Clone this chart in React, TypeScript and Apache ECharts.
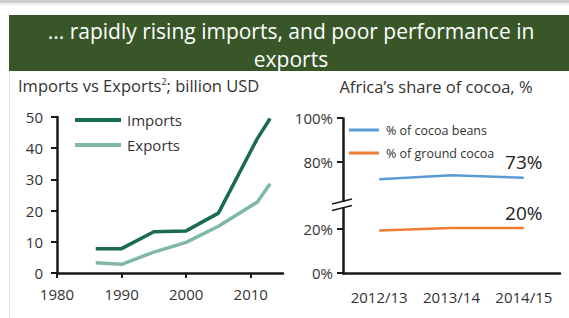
import React, { useEffect, useRef } from "react";
import * as echarts from "echarts";

const bannerLines = ["... rapidly rising imports, and poor performance in", "exports"];
const leftTitle = "Imports vs Exports{sup|2}; billion USD";
const rightTitle = "Africa’s share of cocoa, %";

const importYears = [1986, 1990, 1995, 2000, 2005, 2011, 2013];
const importValues = [7.8, 7.8, 13.2, 13.5, 19.2, 43, 49.5];
const exportYears = [1986, 1990, 1995, 2000, 2005, 2011, 2013];
const exportValues = [3.3, 2.8, 6.7, 9.8, 15, 22.7, 28.6];

const seasons = ["2012/13", "2013/14", "2014/15"];
const beansShare = [72.3, 74.1, 73];
const groundShare = [19.2, 20.3, 20.3];
const shareTicks = [0, 20, 80, 100];

const FONT = "Open Sans";
const AXIS = "#1a1a1a";
const TXT = "#333333";

export default function App() {
  const ref = useRef<HTMLDivElement>(null);
  useEffect(() => {
    if (!ref.current) return;
    const chart = echarts.init(ref.current, undefined, { renderer: "svg" });
    const lastLabel = (i: number, n: number) => ({
      show: i === n - 1,
      position: "top",
      distance: 6,
      fontSize: 19,
      color: "#222",
      fontFamily: FONT,
      formatter: (p: any) => `${Math.round(p.value)}%`,
    });
    chart.setOption({
      animation: false,
      backgroundColor: "#ffffff",
      textStyle: { fontFamily: FONT },
      title: [
        {
          text: leftTitle,
          left: 13,
          top: 72,
          textStyle: {
            fontSize: 16.5,
            fontWeight: "normal",
            color: TXT,
            fontFamily: FONT,
            rich: { sup: { fontSize: 9, verticalAlign: "top", padding: [0, 0, 8, 0], color: TXT, fontFamily: FONT } },
          },
        },
        {
          text: rightTitle,
          left: 431,
          textAlign: "center",
          top: 73,
          textStyle: { fontSize: 16.5, fontWeight: "normal", color: TXT, fontFamily: FONT },
        },
      ],
      legend: [
        {
          orient: "vertical",
          left: 75,
          top: 111,
          padding: 0,
          itemWidth: 46,
          itemHeight: 4,
          itemGap: 7,
          icon: "rect",
          data: ["Imports", "Exports"],
          textStyle: { fontSize: 15, color: TXT, fontFamily: FONT, lineHeight: 18, padding: [0, 0, 0, 1] },
        },
        {
          orient: "vertical",
          left: 349,
          top: 122,
          padding: 0,
          itemWidth: 30,
          itemHeight: 3,
          itemGap: 7,
          icon: "rect",
          data: ["% of cocoa beans", "% of ground cocoa"],
          textStyle: { fontSize: 12.5, color: TXT, fontFamily: FONT, lineHeight: 16, padding: [0, 0, 0, 2] },
        },
      ],
      grid: [
        { left: 57, top: 117, width: 226, height: 156 },
        { left: 343, top: 118, width: 217, height: 155 },
      ],
      xAxis: [
        {
          type: "value",
          gridIndex: 0,
          min: 1980,
          max: 2015,
          interval: 10,
          splitLine: { show: false },
          axisLine: { show: true, onZero: false, lineStyle: { color: AXIS, width: 2.5 } },
          axisTick: { show: true, length: 5, lineStyle: { color: AXIS, width: 2 } },
          axisLabel: {
            fontSize: 15,
            color: TXT,
            margin: 13,
            fontFamily: FONT,
            showMaxLabel: false,
            formatter: (v: number) => String(v),
          },
        },
        {
          type: "category",
          gridIndex: 1,
          data: seasons,
          boundaryGap: true,
          axisLine: { show: true, lineStyle: { color: AXIS, width: 2.5 } },
          axisTick: { show: false },
          axisLabel: { fontSize: 15, color: TXT, margin: 16, fontFamily: FONT, interval: 0, hideOverlap: false },
        },
      ],
      yAxis: [
        {
          type: "value",
          gridIndex: 0,
          min: 0,
          max: 50,
          interval: 10,
          splitLine: { show: false },
          axisLine: { show: true, lineStyle: { color: AXIS, width: 2.5 } },
          axisTick: { show: true, length: 6, lineStyle: { color: AXIS, width: 2 } },
          axisLabel: { fontSize: 15, color: TXT, margin: 14, fontFamily: FONT },
        },
        {
          type: "value",
          gridIndex: 1,
          min: 0,
          max: 100,
          interval: 20,
          breaks: [{ start: 30, end: 62, gap: "3%" }],
          breakArea: { show: false },
          splitLine: { show: false },
          axisLine: { show: true, lineStyle: { color: AXIS, width: 2.5 } },
          axisTick: { show: true, length: 6, customValues: shareTicks, lineStyle: { color: AXIS, width: 2 } },
          axisLabel: {
            fontSize: 15,
            color: TXT,
            margin: 10,
            fontFamily: FONT,
            customValues: shareTicks,
            formatter: (v: number) => `${v}%`,
          },
        },
      ],
      series: [
        {
          name: "Imports",
          type: "line",
          xAxisIndex: 0,
          yAxisIndex: 0,
          data: importYears.map((y, i) => [y, importValues[i]]),
          showSymbol: false,
          lineStyle: { color: "#1d6b4f", width: 3.5 },
          itemStyle: { color: "#1d6b4f" },
        },
        {
          name: "Exports",
          type: "line",
          xAxisIndex: 0,
          yAxisIndex: 0,
          data: exportYears.map((y, i) => [y, exportValues[i]]),
          showSymbol: false,
          lineStyle: { color: "#80b8a8", width: 3.5 },
          itemStyle: { color: "#80b8a8" },
        },
        {
          name: "% of cocoa beans",
          type: "line",
          xAxisIndex: 1,
          yAxisIndex: 1,
          data: beansShare.map((v, i) => ({ value: v, label: lastLabel(i, beansShare.length) })),
          showSymbol: true,
          symbol: "circle",
          symbolSize: 0,
          lineStyle: { color: "#5b9bd5", width: 2.5 },
          itemStyle: { color: "#5b9bd5" },
        },
        {
          name: "% of ground cocoa",
          type: "line",
          xAxisIndex: 1,
          yAxisIndex: 1,
          data: groundShare.map((v, i) => ({ value: v, label: lastLabel(i, groundShare.length) })),
          showSymbol: true,
          symbol: "circle",
          symbolSize: 0,
          lineStyle: { color: "#ed7d31", width: 2.5 },
          itemStyle: { color: "#ed7d31" },
        },
      ],
      graphic: [
        { type: "rect", z: 100, shape: { x: 0, y: 0, width: 569, height: 3 }, style: { fill: "#cccccc" } },
        { type: "rect", z: 100, shape: { x: 0, y: 3, width: 569, height: 2 }, style: { fill: "#ececec" } },
        { type: "rect", z: 100, shape: { x: 9, y: 15, width: 560, height: 56 }, style: { fill: "#385628" } },
        {
          type: "text",
          z: 101,
          x: 291,
          y: 30.5,
          style: {
            text: bannerLines[0],
            fill: "#ffffff",
            fontSize: 21,
            lineHeight: 22,
            fontFamily: FONT,
            align: "center",
            verticalAlign: "middle",
          },
        },
        {
          type: "text",
          z: 101,
          x: 291,
          y: 58.5,
          style: {
            text: bannerLines[1],
            fill: "#ffffff",
            fontSize: 21,
            lineHeight: 22,
            fontFamily: FONT,
            align: "center",
            verticalAlign: "middle",
          },
        },
        { type: "line", z: 100, shape: { x1: 9.5, y1: 71, x2: 9.5, y2: 318 }, style: { stroke: "#e4e4e4", lineWidth: 1 } },
        { type: "rect", z: 100, shape: { x: 339, y: 202, width: 8, height: 5 }, style: { fill: "#ffffff" } },
        { type: "line", z: 101, shape: { x1: 332, y1: 204, x2: 352, y2: 199 }, style: { stroke: AXIS, lineWidth: 1.5 } },
        { type: "line", z: 101, shape: { x1: 332, y1: 210.5, x2: 352, y2: 205.5 }, style: { stroke: AXIS, lineWidth: 1.5 } },
      ],
    });
    return () => chart.dispose();
  }, []);
  return (
    <div
      ref={ref}
      style={{ position: "fixed", left: 0, top: 0, width: 569, height: 318 }}
    />
  );
}
